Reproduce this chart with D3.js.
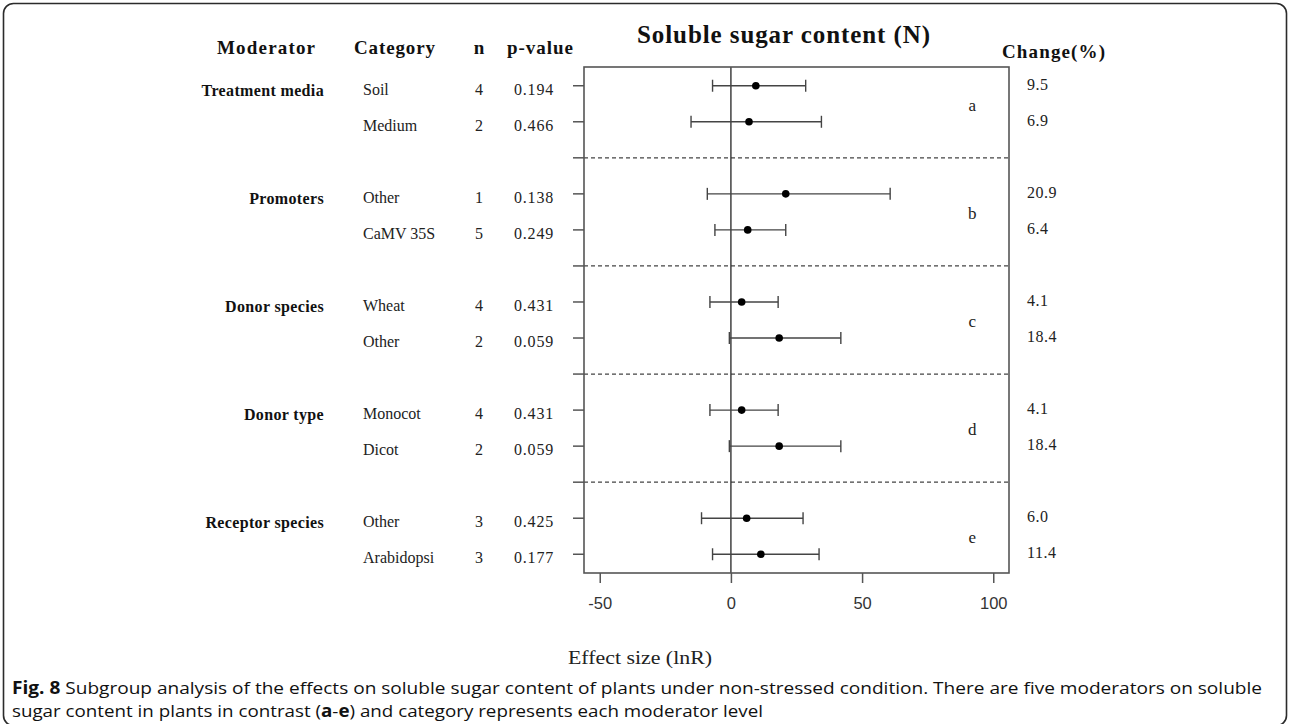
<!DOCTYPE html>
<html>
<head>
<meta charset="utf-8">
<script src="https://cdn.jsdelivr.net/npm/d3@7"></script>
<style>
  html, body { margin: 0; padding: 0; background: #fff; }
  svg { display: block; }
</style>
</head>
<body>
<svg id="chart" width="1290" height="724"></svg>
<script>
// ---------- data ----------
const moderators = ["Treatment media", "Promoters", "Donor species", "Donor type", "Receptor species"];
const groupLetters = ["a", "b", "c", "d", "e"];
const categories = ["Soil", "Medium", "Other", "CaMV 35S", "Wheat", "Other", "Monocot", "Dicot", "Other", "Arabidopsi"];
const nValues = [4, 2, 1, 5, 4, 2, 4, 2, 3, 3];
const pValues = ["0.194", "0.466", "0.138", "0.249", "0.431", "0.059", "0.431", "0.059", "0.425", "0.177"];
const estimates = [9.5, 6.9, 20.9, 6.4, 4.1, 18.4, 4.1, 18.4, 6.0, 11.4];
const lowerCI = [-7.0, -15.2, -9.0, -6.1, -8.0, -0.6, -8.0, -0.6, -11.2, -7.0];
const upperCI = [28.5, 34.5, 60.7, 20.9, 18.0, 41.9, 18.0, 41.9, 27.5, 33.6];
const changeLabels = ["9.5", "6.9", "20.9", "6.4", "4.1", "18.4", "4.1", "18.4", "6.0", "11.4"];
const xTicks = [-50, 0, 50, 100];
const xLimits = [-50, 100];
const letterX = 92;

// ---------- layout ----------
const svg = d3.select("#chart");
const serif = "'Liberation Serif', 'Times New Roman', serif";
const sans = "'Liberation Sans', Arial, sans-serif";
const boxL = 584, boxR = 1009, boxT = 67, boxB = 573;

const xPad = (xLimits[1] - xLimits[0]) * 0.04;
const x = d3.scaleLinear().domain([xLimits[0] - xPad, xLimits[1] + xPad]).range([boxL, boxR]);
const nSlots = 13;
const yPad = nSlots * 0.04;
const y = d3.scaleLinear().domain([-yPad, nSlots + yPad]).range([boxT, boxB]);

const slotOf = i => Math.floor(i / 2) * 3 + (i % 2);
const rows = categories.map((c, i) => ({
  cat: c, n: nValues[i], p: pValues[i], est: estimates[i],
  lo: lowerCI[i], hi: upperCI[i], ch: changeLabels[i], slot: slotOf(i)
}));

// outer rounded frame
svg.append("rect")
  .attr("x", 3.5).attr("y", 3.5).attr("width", 1283).attr("height", 722)
  .attr("rx", 10).attr("fill", "none").attr("stroke", "#2b2b2b").attr("stroke-width", 1.6);

const lineCol = "#555";

// y ticks (one per slot)
svg.append("g").selectAll("line").data(d3.range(0, nSlots + 1)).join("line")
  .attr("x1", boxL - 11).attr("x2", boxL)
  .attr("y1", d => y(d)).attr("y2", d => y(d))
  .attr("stroke", lineCol).attr("stroke-width", 1.5);

// dashed separators
const sepSlots = [2, 5, 8, 11];
svg.append("g").selectAll("line").data(sepSlots).join("line")
  .attr("x1", boxL).attr("x2", boxR)
  .attr("y1", d => y(d)).attr("y2", d => y(d))
  .attr("stroke", "#444").attr("stroke-width", 1.2).attr("stroke-dasharray", "4,3");

// zero line
svg.append("line")
  .attr("x1", x(0)).attr("x2", x(0)).attr("y1", boxT).attr("y2", boxB)
  .attr("stroke", "#333").attr("stroke-width", 1.4);

// box
svg.append("rect")
  .attr("x", boxL).attr("y", boxT).attr("width", boxR - boxL).attr("height", boxB - boxT)
  .attr("fill", "none").attr("stroke", lineCol).attr("stroke-width", 1.6);

// x axis
const xAxis = d3.axisBottom(x).tickValues(xTicks).tickSize(10).tickPadding(14).tickFormat(d => String(d));
const gx = svg.append("g").attr("transform", `translate(0,${boxB})`).call(xAxis);
gx.select(".domain").remove();
gx.selectAll(".tick line").attr("stroke", lineCol).attr("stroke-width", 1.5);
gx.selectAll(".tick text").attr("font-family", sans).attr("font-size", 16.5).attr("fill", "#333");

// error bars
const eb = svg.append("g").selectAll("g").data(rows).join("g");
eb.append("line")
  .attr("x1", d => x(d.lo)).attr("x2", d => x(d.hi))
  .attr("y1", d => y(d.slot)).attr("y2", d => y(d.slot))
  .attr("stroke", "#444").attr("stroke-width", 1.4);
eb.append("line")
  .attr("x1", d => x(d.lo)).attr("x2", d => x(d.lo))
  .attr("y1", d => y(d.slot) - 6).attr("y2", d => y(d.slot) + 6)
  .attr("stroke", "#444").attr("stroke-width", 1.4);
eb.append("line")
  .attr("x1", d => x(d.hi)).attr("x2", d => x(d.hi))
  .attr("y1", d => y(d.slot) - 6).attr("y2", d => y(d.slot) + 6)
  .attr("stroke", "#444").attr("stroke-width", 1.4);
eb.append("circle")
  .attr("cx", d => x(d.est)).attr("cy", d => y(d.slot)).attr("r", 3.8).attr("fill", "#000");

// group letters
svg.append("g").selectAll("text").data(groupLetters).join("text")
  .attr("x", x(letterX)).attr("y", (d, g) => y(g * 3 + 0.5) + 7)
  .attr("text-anchor", "middle").attr("font-family", serif).attr("font-size", 17).attr("fill", "#222")
  .text(d => d);

// headers
const hdr = [
  { t: "Moderator", x: 217, w: 98 },
  { t: "Category", x: 354, w: 81 },
  { t: "p-value", x: 507, w: 66 }
];
svg.append("g").selectAll("text").data(hdr).join("text")
  .attr("x", d => d.x).attr("y", 54)
  .attr("font-family", serif).attr("font-weight", "bold").attr("font-size", 19).attr("fill", "#111")
  .attr("textLength", d => d.w).attr("lengthAdjust", "spacing")
  .text(d => d.t);
svg.append("text").attr("x", 479).attr("y", 54).attr("text-anchor", "middle")
  .attr("font-family", serif).attr("font-weight", "bold").attr("font-size", 19).attr("fill", "#111").text("n");
svg.append("text").attr("x", 1002).attr("y", 58)
  .attr("font-family", serif).attr("font-weight", "bold").attr("font-size", 19).attr("fill", "#111")
  .attr("textLength", 103).attr("lengthAdjust", "spacing").text("Change(%)");

// title
svg.append("text").attr("x", 637).attr("y", 43)
  .attr("font-family", serif).attr("font-weight", "bold").attr("font-size", 25).attr("fill", "#111")
  .attr("textLength", 293).attr("lengthAdjust", "spacing").text("Soluble sugar content (N)");

// moderator labels
svg.append("g").selectAll("text").data(moderators).join("text")
  .attr("x", 324).attr("y", (d, g) => y(g * 3) + 10)
  .attr("text-anchor", "end").attr("font-family", serif).attr("font-weight", "bold")
  .attr("font-size", 16).attr("letter-spacing", 0.35).attr("fill", "#111")
  .text(d => d);

// row texts
const rt = svg.append("g").selectAll("g").data(rows).join("g");
rt.append("text").attr("x", 363).attr("y", d => y(d.slot) + 9)
  .attr("font-family", serif).attr("font-size", 16).attr("fill", "#222").text(d => d.cat);
rt.append("text").attr("x", 479).attr("y", d => y(d.slot) + 9).attr("text-anchor", "middle")
  .attr("font-family", serif).attr("font-size", 16).attr("fill", "#222").text(d => d.n);
rt.append("text").attr("x", 554).attr("y", d => y(d.slot) + 9).attr("text-anchor", "end")
  .attr("font-family", serif).attr("font-size", 16).attr("letter-spacing", 0.8).attr("fill", "#222").text(d => d.p);
rt.append("text").attr("x", 1027).attr("y", d => y(d.slot) + 4)
  .attr("font-family", serif).attr("font-size", 16).attr("letter-spacing", 0.5).attr("fill", "#222").text(d => d.ch);

// x axis title
svg.append("text").attr("x", 568).attr("y", 664)
  .attr("font-family", serif).attr("font-size", 19).attr("fill", "#222")
  .attr("textLength", 144).attr("lengthAdjust", "spacingAndGlyphs").text("Effect size (lnR)");

// caption
const capFont = "'Open Sans', 'Noto Sans', sans-serif";
const cap1 = svg.append("text").attr("x", 12).attr("y", 694)
  .attr("font-family", capFont).attr("font-size", 17).attr("fill", "#111")
  .attr("textLength", 1250).attr("lengthAdjust", "spacingAndGlyphs");
cap1.append("tspan").attr("font-weight", "bold").text("Fig. 8");
cap1.append("tspan").text(" Subgroup analysis of the effects on soluble sugar content of plants under non-stressed condition. There are five moderators on soluble");
const cap2 = svg.append("text").attr("x", 12).attr("y", 717)
  .attr("font-family", capFont).attr("font-size", 17).attr("fill", "#111")
  .attr("textLength", 751).attr("lengthAdjust", "spacingAndGlyphs");
cap2.append("tspan").text("sugar content in plants in contrast (");
cap2.append("tspan").attr("font-weight", "bold").text("a");
cap2.append("tspan").text("-");
cap2.append("tspan").attr("font-weight", "bold").text("e");
cap2.append("tspan").text(") and category represents each moderator level");
</script>
</body>
</html>
